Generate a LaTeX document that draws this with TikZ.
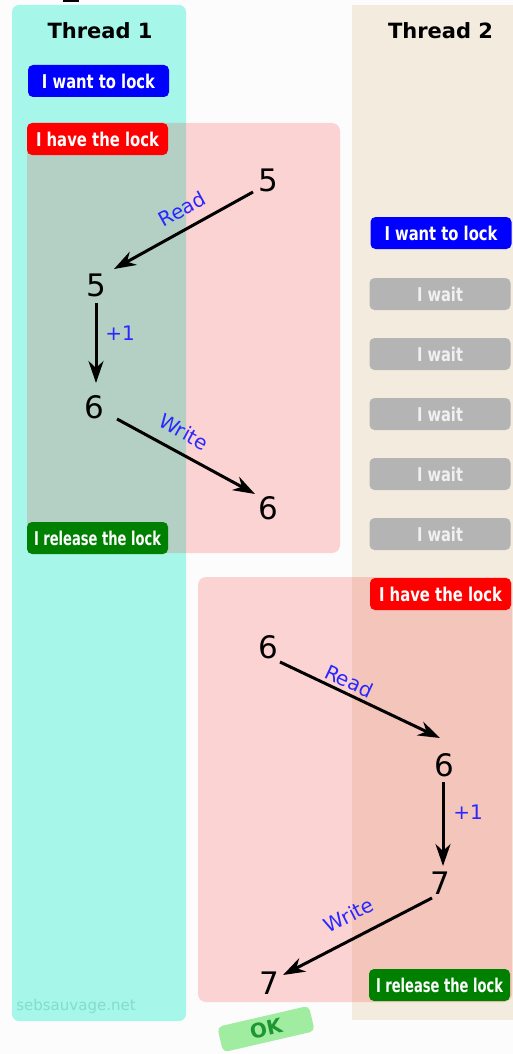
\documentclass[tikz,border=0pt]{standalone}
\usepackage{fontspec}
\usepackage{graphicx}
\setmainfont{DejaVu Sans}
\usetikzlibrary{arrows.meta,calc}
\definecolor{bgcol}{RGB}{252,252,252}
\definecolor{cyancol}{RGB}{166,247,233}
\definecolor{beigecol}{RGB}{243,235,222}
\definecolor{boxblue}{RGB}{0,0,255}
\definecolor{boxred}{RGB}{255,0,0}
\definecolor{boxgreen}{RGB}{0,128,0}
\definecolor{boxgrey}{RGB}{180,180,180}
\definecolor{lblblue}{RGB}{40,40,255}
\definecolor{sebcol}{RGB}{132,220,204}
\definecolor{oklight}{RGB}{160,236,160}
\definecolor{okdark}{RGB}{30,150,50}
\newcommand\fitw[2]{\resizebox{#1}{\height}{#2}}
\tikzset{
  tag/.style={minimum width=141pt, minimum height=32pt, rounded corners=5pt, inner sep=0pt,
    text=white, font=\bfseries\fontsize{19}{19}\selectfont},
  wanttag/.style={tag, fill=boxblue},
  havetag/.style={tag, fill=boxred},
  reltag/.style={tag, fill=boxgreen},
  waittag/.style={tag, fill=boxgrey, text=white!94!black},
  num/.style={inner sep=0pt, font=\fontsize{31}{31}\selectfont},
  lbl/.style={inner sep=0pt, text=lblblue, font=\fontsize{20}{20}\selectfont},
  title/.style={inner sep=0pt, font=\bfseries\fontsize{21}{21}\selectfont},
  arr/.style={line width=3pt, -{Stealth[length=22pt,width=15pt,inset=7pt]}},
  lockzone/.style={fill=red, fill opacity=0.16, rounded corners=8pt},
}
\begin{document}
\begin{tikzpicture}[x=1pt,y=-1pt]
\useasboundingbox (0,0) rectangle (513,1054);
\fill[bgcol] (0,0) rectangle (513,1054);
\fill (63,0) rectangle (79,2.5);
% columns
\fill[cyancol, rounded corners=7pt] (12,5) rectangle (186,1021);
\fill[beigecol] (352,5) rectangle (513,1020);
\node[title] (t1) at (100,31) {Thread 1};
\node[title] (t2) at (440.5,31) {Thread 2};
% lock zones
\fill[lockzone] (27,123) rectangle (340,553);
\fill[lockzone] (198,577) rectangle (512,1002);
% thread 1 tags
\node[wanttag] (want1) at (98.5,81) {\fitw{113pt}{I want to lock}};
\node[havetag] (have1) at (97.5,139) {\fitw{123pt}{I have the lock}};
\node[reltag] (rel1) at (97.5,538) {\fitw{127pt}{I release the lock}};
% thread 2 tags
\node[wanttag] (want2) at (441,233) {\fitw{113pt}{I want to lock}};
\node[waittag] (w1) at (440,294) {\fitw{46pt}{I wait}};
\node[waittag] (w2) at (440,354) {\fitw{46pt}{I wait}};
\node[waittag] (w3) at (440,414) {\fitw{46pt}{I wait}};
\node[waittag] (w4) at (440,474) {\fitw{46pt}{I wait}};
\node[waittag] (w5) at (440,534) {\fitw{46pt}{I wait}};
\node[havetag] (have2) at (440.5,594) {\fitw{123pt}{I have the lock}};
\node[reltag] (rel2) at (439.5,985) {\fitw{127pt}{I release the lock}};
% numbers thread 1
\node[num] (a5) at (268,180) {5};
\node[num] (b5) at (96,285) {5};
\node[num] (c6) at (94,407) {6};
\node[num] (d6) at (268,508) {6};
% numbers thread 2
\node[num] (e6) at (268,647) {6};
\node[num] (f6) at (444,765) {6};
\node[num] (g7) at (440,883) {7};
\node[num] (h7) at (269,983) {7};
% arrows thread 1
\draw[arr] ($(a5)+(-15,12)$) -- ($(b5)+(18,-16)$);
\draw[arr] ($(b5)+(0,18)$) -- ($(c6)+(2,-24)$);
\draw[arr] ($(c6)+(23,12)$) -- ($(d6)+(-13,-14)$);
% arrows thread 2
\draw[arr] ($(e6)+(12,15)$) -- ($(f6)+(-4,-27)$);
\draw[arr] ($(f6)+(-1,17)$) -- ($(g7)+(3,-17)$);
\draw[arr] ($(g7)+(-8,15)$) -- ($(h7)+(14,-8)$);
% labels
\node[lbl, rotate=29] (rd1) at (182,209) {Read};
\node[lbl] (p1) at (120,333) {+1};
\node[lbl, rotate=-29] (wr1) at (184,432) {Write};
\node[lbl, rotate=-25] (rd2) at (349,681) {Read};
\node[lbl] (p2) at (468,812) {+1};
\node[lbl, rotate=27] (wr2) at (349,915) {Write};
% footer
\node[inner sep=0pt, text=sebcol, font=\fontsize{15}{15}\selectfont] (seb) at (76,1006) {sebsauvage.net};
\node[rotate=13, fill=oklight, rounded corners=5pt, minimum width=94pt, minimum height=26pt, inner sep=0pt,
  text=okdark, font=\bfseries\fontsize{20}{20}\selectfont] (ok) at (266,1029) {OK};
\end{tikzpicture}
\end{document}
